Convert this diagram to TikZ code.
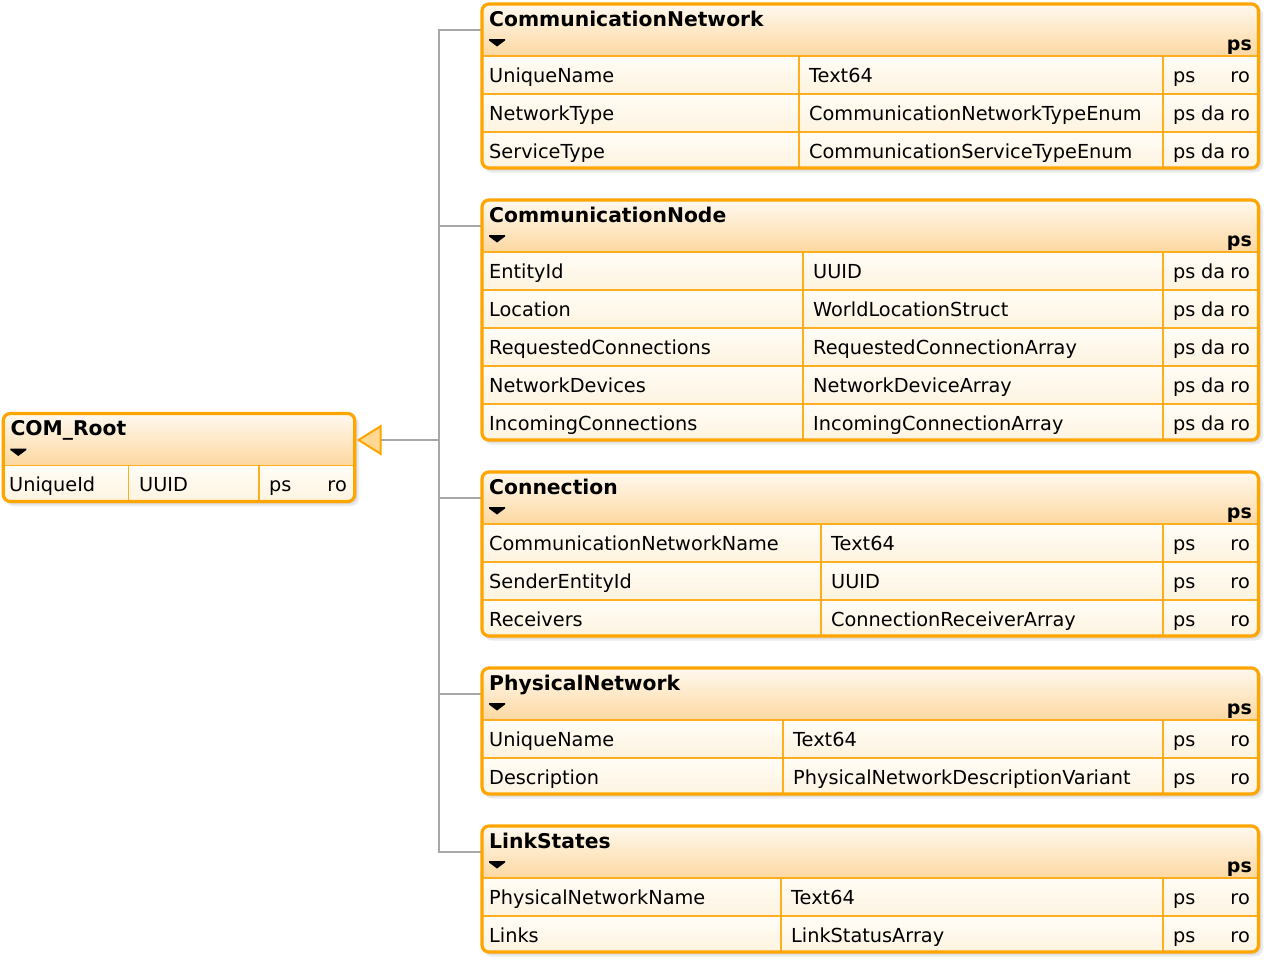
\documentclass[tikz,border=0pt]{standalone}
\usepackage{fontspec}
\setmainfont{DejaVu Sans}
\usetikzlibrary{arrows.meta}

\definecolor{umlorange}{HTML}{FFA500}
\definecolor{gridorange}{HTML}{FFAE1F}
\definecolor{hdtop}{HTML}{FFF9F0}
\definecolor{hdbot}{HTML}{FDD8A0}
\definecolor{rowtop}{HTML}{FFFDF7}
\definecolor{rowbot}{HTML}{FEF3DE}
\definecolor{linkgray}{HTML}{A8A8A8}
\definecolor{tipfill}{HTML}{FFD894}

\tikzset{
  classframe/.style={rectangle, draw=umlorange, line width=3.2pt, rounded corners=7pt,
    inner sep=0pt, outer sep=0pt, anchor=north west},
  gridline/.style={draw=gridorange, line width=1.3pt},
  titletext/.style={font=\fontsize{20.3}{24}\selectfont\bfseries, inner sep=0pt, anchor=base west},
  hdps/.style={font=\fontsize{19}{22}\selectfont\bfseries, inner sep=0pt, anchor=base east},
  rowtext/.style={font=\fontsize{19.3}{23}\selectfont, inner sep=0pt},
  conn/.style={draw=linkgray, line width=1.8pt},
  shadowfill/.style={fill=black, opacity=0.08, rounded corners=8pt},
}

% class frame: #1 name, #2 left, #3 right, #4 top, #5 rows,
% #6 first divider, #7 second divider, #8 title
\newcommand\classbox[8]{%
  \pgfmathsetmacro\cbBot{#4+50+38*#5}%
  \pgfmathsetmacro\cbW{#3-#2}%
  \pgfmathsetmacro\cbH{\cbBot-#4}%
  \fill[shadowfill] (#2+2,#4+3) rectangle (#3+4.5,\cbBot+4.5);
  \fill[shadowfill] (#2+1,#4+2) rectangle (#3+2.5,\cbBot+2.5);
  \begin{scope}
    \clip[rounded corners=7pt] (#2,#4) rectangle (#3,\cbBot);
    \shade[top color=hdtop, bottom color=hdbot] (#2,#4) rectangle (#3,#4+52);
    \foreach \r in {1,...,#5}{%
      \shade[top color=rowtop, bottom color=rowbot] (#2,#4+14+38*\r) rectangle (#3,#4+52+38*\r);}
  \end{scope}
  \draw[gridline] (#2,#4+52) -- (#3,#4+52);
  \foreach \r in {1,...,#5}{%
    \ifnum\r<#5 \draw[gridline] (#2,#4+52+38*\r) -- (#3,#4+52+38*\r);\fi}
  \draw[gridline] (#6,#4+52) -- (#6,\cbBot);
  \draw[gridline] (#7,#4+52) -- (#7,\cbBot);
  \node[classframe, minimum width=\cbW pt, minimum height=\cbH pt] (#1) at (#2,#4) {};
  \node[titletext] (#1-title) at (#2+7,#4+22) {#8};
  \fill (#2+7,#4+35) -- (#2+23,#4+35) -- (#2+23,#4+36.5) -- (#2+15,#4+42.5)
    -- (#2+7,#4+36.5) -- cycle;
}

% attribute rows: #1 prefix, #2 top, #3 type column x, #4 name/type/flag list
\newcommand\classrows[4]{%
  \foreach \fa/\fb/\fc [count=\i from 0] in {#4}{%
    \pgfmathsetmacro\ryb{#2+78+38*\i}%
    \node[rowtext, anchor=base west] (#1-\i-name) at (489,\ryb) {\fa};
    \node[rowtext, anchor=base west] (#1-\i-type) at (#3,\ryb) {\fb};
    \node[rowtext, anchor=base west] (#1-\i-ps) at (1173,\ryb) {ps};
    \ifnum\fc=1 \node[rowtext, anchor=base west] (#1-\i-da) at (1201,\ryb) {da};\fi
    \node[rowtext, anchor=base east] (#1-\i-ro) at (1250,\ryb) {ro};
  }%
}

\begin{document}
\begin{tikzpicture}[x=1pt,y=-1pt]
\useasboundingbox (0,0) rectangle (1271,964);

% generalization tree
\coordinate (trunk) at (439,440);
\foreach \b/\t in {cn/4,cnode/200,conn/472,phys/668,ls/826}{
  \coordinate (\b-join) at (482,\t+26);
  \draw[conn] (\b-join) -| (trunk);
}

% root class
\classbox{root}{3.3}{354.7}{413.5}{1}{128.7}{259}{COM\_Root}
\node[rowtext, anchor=base west] (root-0-name) at (9,491.5) {UniqueId};
\node[rowtext, anchor=base west] (root-0-type) at (139,491.5) {UUID};
\node[rowtext, anchor=base west] (root-0-ps) at (269,491.5) {ps};
\node[rowtext, anchor=base east] (root-0-ro) at (347,491.5) {ro};

\path (root.east |- trunk) ++(2,0) coordinate (tip);
\draw[conn, -{Triangle[length=25pt, width=31pt, line width=2pt, color=umlorange, fill=tipfill]}]
  (trunk) -- (tip);

% derived classes
\classbox{cn}{482}{1258.5}{4}{3}{799}{1163}{CommunicationNetwork}
\node[hdps] (cn-ps) at (1252,50) {ps};
\classrows{cn}{4}{809}{UniqueName/Text64/0,
  NetworkType/CommunicationNetworkTypeEnum/1,
  ServiceType/CommunicationServiceTypeEnum/1}

\classbox{cnode}{482}{1258.5}{200}{5}{803}{1163}{CommunicationNode}
\node[hdps] (cnode-ps) at (1252,246) {ps};
\classrows{cnode}{200}{813}{EntityId/UUID/1,
  Location/WorldLocationStruct/1,
  RequestedConnections/RequestedConnectionArray/1,
  NetworkDevices/NetworkDeviceArray/1,
  IncomingConnections/IncomingConnectionArray/1}

\classbox{conn}{482}{1258.5}{472}{3}{821}{1163}{Connection}
\node[hdps] (conn-ps) at (1252,518) {ps};
\classrows{conn}{472}{831}{CommunicationNetworkName/Text64/0,
  SenderEntityId/UUID/0,
  Receivers/ConnectionReceiverArray/0}

\classbox{phys}{482}{1258.5}{668}{2}{783}{1163}{PhysicalNetwork}
\node[hdps] (phys-ps) at (1252,714) {ps};
\classrows{phys}{668}{793}{UniqueName/Text64/0,
  Description/PhysicalNetworkDescriptionVariant/0}

\classbox{ls}{482}{1258.5}{826}{2}{781}{1163}{LinkStates}
\node[hdps] (ls-ps) at (1252,872) {ps};
\classrows{ls}{826}{791}{PhysicalNetworkName/Text64/0,
  Links/LinkStatusArray/0}
\end{tikzpicture}
\end{document}
